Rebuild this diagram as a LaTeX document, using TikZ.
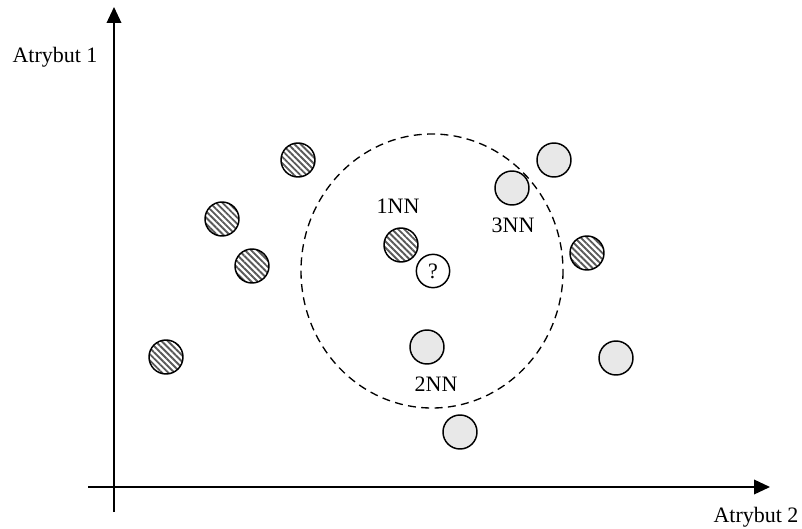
\documentclass[tikz,border=0pt]{standalone}
\usepackage{fontspec}
\setmainfont{Liberation Serif}
\usetikzlibrary{patterns.meta,arrows.meta}
\begin{document}
\begin{tikzpicture}[x=0.75pt,y=-0.75pt,
  every node/.style={font=\fontsize{16.5}{19}\selectfont},
  pt/.style={circle,draw=black,line width=1.1pt,minimum size=25.5pt,inner sep=0pt},
  hatched/.style={pt,fill=white,pattern={Lines[angle=-45,distance=3.3pt,line width=1.4pt]},pattern color=black!65},
  plain/.style={pt,fill=black!9},
  query/.style={pt,fill=white,minimum size=25pt},
  axis/.style={line width=1.1pt,-{Triangle[length=12pt,width=11pt]}},
  lbl/.style={inner sep=0pt}]
\useasboundingbox (0,0) rectangle (802,528);

% axes
\coordinate (xs) at (88,487);
\coordinate (xe) at (770,487);
\coordinate (ys) at (114,512);
\coordinate (ye) at (114,7);
\draw[axis] (ys) -- (ye);
\draw[axis] (xs) -- (xe);
\node[lbl] (a1) at (55,57) {Atrybut 1};
\node[lbl] (a2) at (756,517) {Atrybut 2};

% neighbourhood of the query point
\draw[line width=1pt,dash pattern=on 6pt off 4pt] (432,271) ellipse [x radius=131, y radius=137];

% class A (hatched)
\node[hatched] (h1) at (298,160) {};
\node[hatched] (h2) at (222,219) {};
\node[hatched] (h3) at (252,266) {};
\node[hatched] (h4) at (166,357) {};
\node[hatched] (h5) at (401,245) {};
\node[hatched] (h6) at (587,253) {};

% class B (grey)
\node[plain] (g1) at (554,160) {};
\node[plain] (g2) at (512,188) {};
\node[plain] (g3) at (427,347) {};
\node[plain] (g4) at (616,358) {};
\node[plain] (g5) at (460,432) {};

% query point
\node[query] (q) at (433,271) {?};

% neighbour labels
\node[lbl] (n1) at (398,206) {1NN};
\node[lbl] (n2) at (436,384) {2NN};
\node[lbl] (n3) at (513,225) {3NN};
\end{tikzpicture}
\end{document}
